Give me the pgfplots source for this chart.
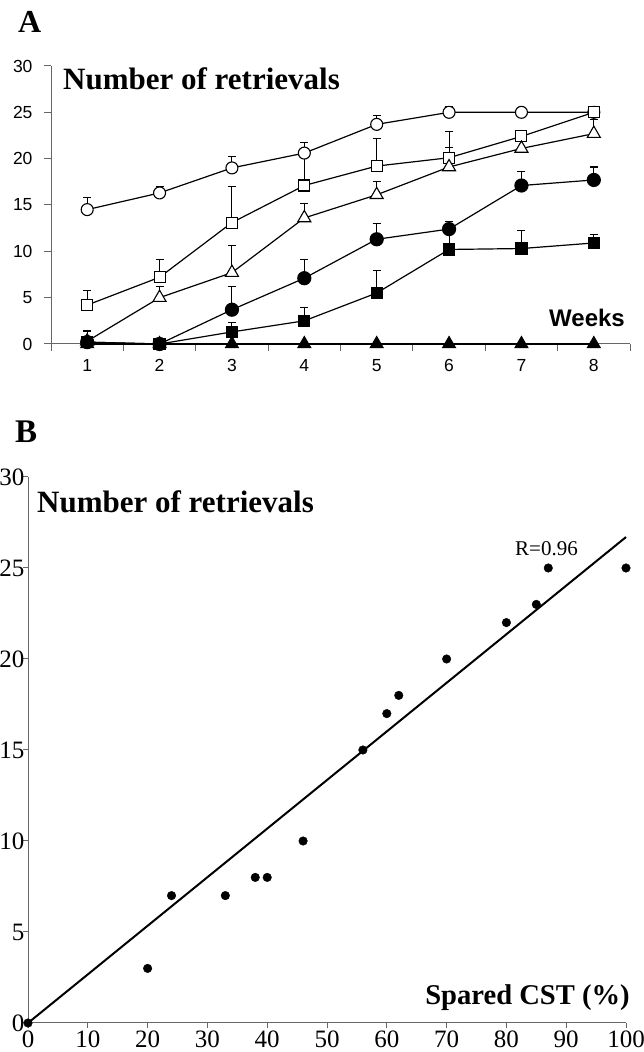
\documentclass[border=0pt]{standalone}
\usepackage{pgfplots}
\pgfplotsset{compat=1.18}
\usepackage{fontspec}
\setmainfont{Liberation Serif}
\newfontfamily\arial{Liberation Sans}
\definecolor{axgray}{gray}{0.4}
\begin{document}
\begin{tikzpicture}[x=1bp,y=1bp]
% ---------------- Panel A ----------------
\begin{axis}[at={(51bp,708bp)}, anchor=south west, scale only axis,
  width=579bp, height=278bp,
  xmin=0.5, xmax=8.5, ymin=0, ymax=30,
  axis lines=left, axis line style={-, axgray, line width=1bp},
  clip=false,
  xtick={1,...,8}, minor xtick={0.5,1.5,...,8.5},
  major x tick style={draw=none},
  ytick={0,5,...,30},
  tick align=outside, major tick length=7bp, minor tick length=7bp,
  tick style={axgray, line width=1bp},
  /pgf/number format/assume math mode=true,
  xticklabel style={font=\arial\fontsize{17.5bp}{18bp}\selectfont, anchor=base, yshift=-21bp},
  yticklabel style={font=\arial\fontsize{17.5bp}{18bp}\selectfont, xshift=-8bp},
  every axis plot/.append style={black, line width=1.2bp},
  error bars/error bar style={line width=1.1bp, black},
  error bars/error mark options={rotate=90, mark size=4bp, line width=1.1bp, black},
]
% open circles
\addplot[mark=*, mark size=6bp, mark options={fill=white, draw=black, line width=1.1bp},
  error bars/.cd, y dir=plus, y explicit]
  coordinates {(1,14.5) +- (0,1.3) (2,16.3) +- (0,0.7) (3,19.0) +- (0,1.2) (4,20.6) +- (0,1.1)
               (5,23.7) +- (0,1.0) (6,25.0) +- (0,0.6) (7,25.0) +- (0,0.5) (8,25.0) +- (0,0.6)};
% open squares
\addplot[mark=square*, mark size=5.5bp, mark options={fill=white, draw=black, line width=1.1bp},
  error bars/.cd, y dir=plus, y explicit]
  coordinates {(1,4.2) +- (0,1.6) (2,7.2) +- (0,1.9) (3,13.1) +- (0,3.9) (4,17.1) +- (0,3.4)
               (5,19.2) +- (0,3.0) (6,20.1) +- (0,2.8) (7,22.4) +- (0,0.5) (8,25.0) +- (0,0.5)};
% open triangles
\addplot[mark=triangle*, mark size=7.5bp, mark options={fill=white, draw=black, line width=1.1bp},
  error bars/.cd, y dir=plus, y explicit]
  coordinates {(1,0.3) +- (0,0.3) (2,5.0) +- (0,1.2) (3,7.7) +- (0,2.9) (4,13.6) +- (0,1.6)
               (5,16.1) +- (0,1.4) (6,19.1) +- (0,2.1) (7,21.1) +- (0,0.8) (8,22.7) +- (0,1.5)};
% filled circles
\addplot[mark=*, mark size=6.5bp, mark options={fill=black, draw=black},
  error bars/.cd, y dir=plus, y explicit]
  coordinates {(1,0.2) +- (0,1.2) (2,0.0) +- (0,0.0) (3,3.7) +- (0,2.5) (4,7.1) +- (0,2.0)
               (5,11.3) +- (0,1.7) (6,12.4) +- (0,0.8) (7,17.1) +- (0,1.5) (8,17.7) +- (0,1.4)};
% filled squares
\addplot[mark=square*, mark size=5.5bp, mark options={fill=black, draw=black},
  error bars/.cd, y dir=plus, y explicit]
  coordinates {(1,0.2) +- (0,0.6) (2,0.0) +- (0,0.0) (3,1.3) +- (0,1.0) (4,2.5) +- (0,1.4)
               (5,5.5) +- (0,2.4) (6,10.2) +- (0,2.2) (7,10.3) +- (0,1.9) (8,10.9) +- (0,0.9)};
% filled triangles
\addplot[line width=2.2bp, mark=triangle*, mark size=7.5bp, mark options={fill=black, draw=black, line width=1bp}]
  coordinates {(1,0) (2,0) (3,0) (4,0) (5,0) (6,0) (7,0) (8,0)};
\end{axis}
% ---------------- Panel B ----------------
\begin{axis}[at={(28bp,29bp)}, anchor=south west, scale only axis,
  width=598bp, height=546bp,
  xmin=0, xmax=100, ymin=0, ymax=30,
  axis lines=left, axis line style={-, axgray, line width=1bp},
  clip=false,
  xtick={0,10,...,100}, ytick={0,5,...,30},
  tick align=outside, major tick length=5bp,
  tick style={axgray, line width=1bp},
  /pgf/number format/assume math mode=true,
  xticklabel style={font=\fontsize{25bp}{26bp}\selectfont, yshift=1bp},
  yticklabel style={font=\fontsize{25bp}{26bp}\selectfont, xshift=5bp},
]
\addplot[black, line width=2bp, mark=none] coordinates {(0,0) (100,26.7)};
\addplot[only marks, mark=*, mark size=4.3bp, black]
  coordinates {(0,0) (20,3) (24,7) (33,7) (38,8) (40,8) (46,10) (56,15) (60,17)
               (62,18) (70,20) (80,22) (85,23) (87,25) (100,25)};
\end{axis}
% ---------------- Texts ----------------
\node[anchor=base west, inner sep=0, font=\bfseries\fontsize{32bp}{33bp}\selectfont] at (18,1019) {A};
\node[anchor=base west, inner sep=0, font=\bfseries\fontsize{31bp}{32bp}\selectfont] at (63,962) {Number of retrievals};
\node[anchor=base east, inner sep=0, font=\arial\bfseries\fontsize{24bp}{25bp}\selectfont] at (625,725) {Weeks};
\node[anchor=base west, inner sep=0, font=\bfseries\fontsize{33bp}{34bp}\selectfont] at (15,609) {B};
\node[anchor=base west, inner sep=0, font=\bfseries\fontsize{31bp}{32bp}\selectfont] at (37,539) {Number of retrievals};
\node[anchor=base west, inner sep=0, font=\fontsize{21bp}{22bp}\selectfont] at (515,496) {R=0.96};
\node[anchor=base east, inner sep=0, font=\bfseries\fontsize{28.6bp}{30bp}\selectfont] at (630,47) {Spared CST (\%)};
\pgfresetboundingbox
\useasboundingbox (0,0) rectangle (644,1052);
\end{tikzpicture}
\end{document}
